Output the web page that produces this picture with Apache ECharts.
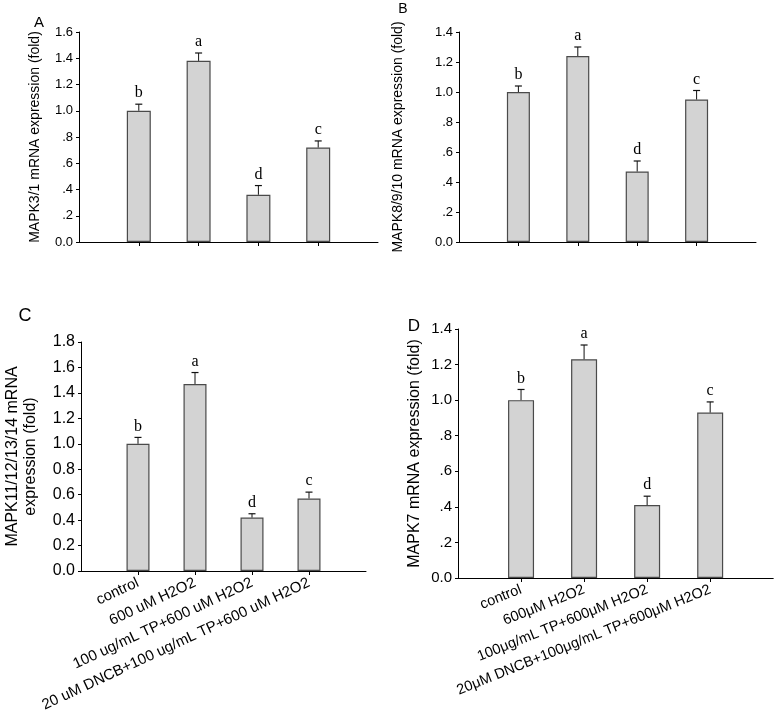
<!DOCTYPE html>
<html>
<head>
<meta charset="utf-8">
<script src="https://cdn.jsdelivr.net/npm/echarts@6/dist/echarts.min.js"></script>
<style>
html,body{margin:0;padding:0;background:#fff;}
#chart{width:776px;height:719px;}
</style>
</head>
<body>
<div id="chart"></div>
<script>
// ---- data ----
const categoriesAB = ['control', '600 uM H2O2', '100 ug/mL TP+600 uM H2O2', '20 uM DNCB+100 ug/mL TP+600 uM H2O2'];
const categoriesC = ['control', '600 uM H2O2', '100 ug/mL TP+600 uM H2O2', '20 uM DNCB+100 ug/mL TP+600 uM H2O2'];
const categoriesD = ['control', '600\u03bcM H2O2', '100\u03bcg/mL TP+600\u03bcM H2O2', '20\u03bcM DNCB+100\u03bcg/mL TP+600\u03bcM H2O2'];

const valuesA = [1.00, 1.38, 0.36, 0.72];
const errorsA = [0.05, 0.06, 0.07, 0.05];
const lettersA = ['b', 'a', 'd', 'c'];

const valuesB = [1.00, 1.24, 0.47, 0.95];
const errorsB = [0.04, 0.06, 0.07, 0.06];
const lettersB = ['b', 'a', 'd', 'c'];

const valuesC = [1.00, 1.47, 0.42, 0.57];
const errorsC = [0.05, 0.09, 0.03, 0.05];
const lettersC = ['b', 'a', 'd', 'c'];

const valuesD = [1.00, 1.23, 0.41, 0.93];
const errorsD = [0.06, 0.08, 0.05, 0.06];
const lettersD = ['b', 'a', 'd', 'c'];

const yMaxA = 1.6, yMaxB = 1.4, yMaxC = 1.8, yMaxD = 1.4;
const yStep = 0.2;

const nameA = 'MAPK3/1 mRNA expression (fold)';
const nameB = 'MAPK8/9/10 mRNA expression (fold)';
const nameC = 'MAPK11/12/13/14 mRNA\nexpression (fold)';
const nameD = 'MAPK7 mRNA expression (fold)';
const panelTags = ['A', 'B', 'C', 'D'];

// ---- helpers ----
const SANS = 'Arial, "Liberation Sans", sans-serif';
const SERIF = '"Times New Roman", "Liberation Serif", serif';

function fmtShort(v) {
  if (Math.abs(v) < 1e-9) return '0.0';
  const s = v.toFixed(1);
  return s.startsWith('0') ? s.slice(1) : s;
}
function fmtLong(v) { return v.toFixed(1); }

const panels = [
  {grid: {left: 79, top: 32, width: 299, height: 210}, cats: categoriesAB, vals: valuesA, errs: errorsA, letters: lettersA,
   max: yMaxA, fmt: fmtShort, name: nameA, nameSize: 14, nameGap: 36, tickSize: 13, showX: false, barWidth: 24},
  {grid: {left: 459, top: 32, width: 297, height: 210}, cats: categoriesAB, vals: valuesB, errs: errorsB, letters: lettersB,
   max: yMaxB, fmt: fmtShort, name: nameB, nameSize: 14, nameGap: 53, tickSize: 13, showX: false, barWidth: 23},
  {grid: {left: 81, top: 342, width: 285, height: 229}, cats: categoriesC, vals: valuesC, errs: errorsC, letters: lettersC,
   max: yMaxC, fmt: fmtLong, name: nameC, nameSize: 16, nameGap: 41, tickSize: 16, showX: true, rotate: 25, xSize: 15, barWidth: 23},
  {grid: {left: 458, top: 329, width: 317, height: 249}, cats: categoriesD, vals: valuesD, errs: errorsD, letters: lettersD,
   max: yMaxD, fmt: fmtShort, name: nameD, nameSize: 16, nameGap: 34, tickSize: 15, showX: true, rotate: 22, xSize: 14.5, barWidth: 26}
];

const option = {
  backgroundColor: '#fff',
  animation: false,
  grid: [], xAxis: [], yAxis: [], series: [],
  graphic: []
};

panels.forEach((p, i) => {
  option.grid.push(Object.assign({containLabel: false}, p.grid));
  const padded = [''].concat(p.cats).concat(['']);
  option.xAxis.push({
    type: 'category', gridIndex: i, data: padded, boundaryGap: false,
    axisLine: {show: true, lineStyle: {color: '#000', width: 1}},
    axisTick: {show: true, length: 4, lineStyle: {color: '#000'},
               interval: (idx, val) => val !== ''},
    axisLabel: {show: p.showX, interval: 0, rotate: p.rotate || 0, margin: 11,
                fontFamily: SANS, fontSize: p.xSize || 14, color: '#000'},
    splitLine: {show: false}
  });
  option.yAxis.push({
    type: 'value', gridIndex: i, min: 0, max: p.max, interval: yStep,
    name: p.name, nameLocation: 'middle', nameGap: p.nameGap,
    nameTextStyle: {fontFamily: SANS, fontSize: p.nameSize, color: '#000', lineHeight: p.nameSize + 2},
    axisLine: {show: true, lineStyle: {color: '#000', width: 1}},
    axisTick: {show: true, length: 3, lineStyle: {color: '#000'}},
    axisLabel: {formatter: p.fmt, fontFamily: SANS, fontSize: p.tickSize, color: '#000', margin: 6},
    splitLine: {show: false}
  });
  const barData = padded.map((c, k) => (k === 0 || k === padded.length - 1) ? '-' : p.vals[k - 1]);
  option.series.push({
    type: 'bar', xAxisIndex: i, yAxisIndex: i, data: barData, barWidth: p.barWidth,
    itemStyle: {color: '#d3d3d3', borderColor: '#4a4a4a', borderWidth: 1.2},
    z: 2
  });
  const errData = p.vals.map((v, k) => [k + 1, v, p.errs[k]]);
  const letters = p.letters;
  option.series.push({
    type: 'custom', xAxisIndex: i, yAxisIndex: i, data: errData, z: 3,
    encode: {x: 0, y: 1},
    renderItem: (params, api) => {
      const x = api.value(0), v = api.value(1), e = api.value(2);
      const p0 = api.coord([x, v]);
      const p1 = api.coord([x, v + e]);
      return {type: 'group', children: [
        {type: 'line', shape: {x1: p0[0], y1: p0[1], x2: p1[0], y2: p1[1]}, style: {stroke: '#111', lineWidth: 1}},
        {type: 'line', shape: {x1: p1[0] - 3.5, y1: p1[1], x2: p1[0] + 3.5, y2: p1[1]}, style: {stroke: '#111', lineWidth: 1.2}},
        {type: 'text', style: {text: letters[params.dataIndex], x: p1[0], y: p1[1] - 3,
          align: 'center', verticalAlign: 'bottom', font: '16px ' + SERIF, fill: '#000'}}
      ]};
    }
  });
});

const tagPos = [[39, 23, 15], [403, 9, 14], [25, 316, 18], [414, 326, 17]];
tagPos.forEach((t, i) => {
  option.graphic.push({type: 'text', x: t[0], y: t[1],
    style: {text: panelTags[i], font: t[2] + 'px ' + SANS, fill: '#000', align: 'center', verticalAlign: 'middle'}});
});

const chart = echarts.init(document.getElementById('chart'), null, {renderer: 'canvas'});
chart.setOption(option);
</script>
</body>
</html>
